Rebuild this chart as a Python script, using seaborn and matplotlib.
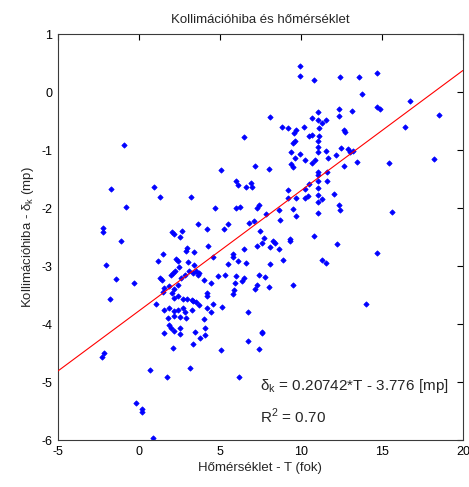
import matplotlib
matplotlib.use("Agg")
import matplotlib.pyplot as plt
import numpy as np
import pandas as pd
import seaborn as sns

# Temperature (°C) and collimation error (arc-seconds) of each observation
temp = [
    9.93, 9.93, 10.8, 8.09, 8.84, 9.19, 9.7, 9.6, 10.2, 11.09, 10.7, 11.05, 11.3, 11.54, 11.1,
    12.42, 13.6, 14.67, 13.8, 16.74, 12.34, 12.34, 13.16, 14.67, 14.91, 12.67, 12.75, 16.43, 18.5,
    -0.9, -1.69, -0.81, 0.93, 1.29, 3.2, -2.2, -2.2, 2.03, 2.67,
    10.48, 10.72, 11.13, 9.62, 9.5, 11.09, 11.09, 11.54, 11.09, 9.42, 9.93, 9.62, 10.23, 10.89,
    10.72, 9.42, 9.5, 6.49, 5.1, 7.17, 8.02, 5.98, 6.14, 6.63, 6.92, 7.0, 4.71, 5.98, 6.23, 7.31,
    7.45, 3.65, 4.24, 5.26, 5.53, 6.8, 7.1, 7.49, 7.88, 8.64, 8.7, 9.19, 9.19, 9.7, 9.5, 9.7,
    10.27, 10.48, 10.23, 10.44, 11.09, 11.09, 11.09, 11.09, 11.09, 11.3, 11.09, 11.09, 11.6, 11.6,
    11.7, 12.2, 12.5, 12.93, 13.03, 13.2, 13.44, 12.67, 15.43, 18.2, 12.05, 12.34, 12.42, 15.63,
    -1.1, -1.99, -1.4, -0.3, -1.77, 2.2, 2.56, 1.21, 1.5, 2.98, 2.9, 2.32, 2.44, 3.01, 1.3, 1.42,
    2.09, 1.99, 2.24, 2.5, 2.6, 2.85, 3.1, 1.58, 1.48, 1.89, 2.15, 2.44, 2.03, 2.2, 2.4, 2.71,
    2.98, 3.26, 1.09, 1.54, 1.89, 2.15, 2.4, 2.71, 2.85, 1.79, 2.2, 2.56, 2.91, 1.89, 1.99, 2.15,
    2.56, 3.3,
    10.83, 9.36, 9.36, 8.27, 8.43, 7.72, 7.58, 7.31, 8.09, 8.68, 4.3, 6.49, 3.42, 5.83, 5.83, 4.59,
    8.9, 11.3, 11.58, 5.53, 6.14, 6.63, 8.1, 3.42, 3.32, 3.53, 3.73, 3.63, 4.02, 4.45, 4.88, 5.33,
    5.98, 6.49, 6.35, 5.92, 7.45, 7.78, 8.02, 7.31, 7.2, 9.5, 5.9, 5.83, 4.24, 4.24, 3.32, 3.53,
    3.69, 4.59, 4.24, 4.45, 5.12, 6.72, 4.02, 4.08, 3.49, 7.61,
    12.21, 14.67, 14.02,
    -2.14, -2.26, 0.72, 1.75, 1.58, 2.56, 2.12, 3.32, 3.18, -0.15, 0.19, 0.19, 0.91,
    3.79, 4.08, 5.1, 6.74, 7.58, 7.45, 6.18,
]
kollim = [
    0.45, 0.27, 0.21, -0.43, -0.60, -0.62, -0.65, -0.70, -0.61, -0.35, -0.45, -0.48, -0.53, -0.48, -0.62,
    0.26, 0.26, 0.33, -0.04, -0.16, -0.30, -0.41, -0.33, -0.25, -0.30, -0.65, -0.69, -0.60, -0.39,
    -0.91, -1.67, -1.98, -1.63, -1.81, -1.81, -2.34, -2.41, -2.41, -2.39,
    -0.75, -0.74, -0.75, -0.84, -0.88, -0.85, -0.94, -1.02, -1.03, -1.03, -1.06, -1.14, -1.17, -1.17,
    -1.22, -1.24, -1.29, -0.78, -1.34, -1.28, -1.32, -1.54, -1.61, -1.63, -1.57, -1.63, -2.0, -2.0, -1.98, -2.0,
    -1.94, -2.27, -2.36, -2.36, -2.27, -2.25, -2.22, -2.4, -2.1, -2.03, -2.2, -1.69, -1.83, -1.82, -2.02, -2.14,
    -1.67, -1.59, -1.83, -1.79, -1.38, -1.43, -1.54, -1.66, -1.77, -1.84, -1.90, -2.09, -1.54, -1.38,
    -1.13, -1.08, -0.97, -0.98, -1.03, -1.01, -1.21, -1.28, -1.23, -1.16, -1.75, -1.95, -2.03, -2.06,
    -2.57, -2.99, -3.22, -3.29, -3.56, -2.44, -2.5, -2.91, -2.8, -2.69, -2.74, -2.87, -2.92, -2.93, -3.21, -3.24,
    -3.12, -3.15, -3.08, -3.02, -3.21, -3.15, -3.09, -3.38, -3.45, -3.35, -3.39, -3.33, -3.47, -3.55, -3.52, -3.56,
    -3.56, -3.58, -3.66, -3.75, -3.72, -3.78, -3.75, -3.72, -3.8, -3.9, -3.87, -3.88, -3.9, -4.01, -4.07, -4.12,
    -4.06, -3.75,
    -2.49, -2.53, -2.57, -2.57, -2.6, -2.52, -2.61, -2.66, -2.68, -2.7, -2.66, -2.7, -2.76, -2.79, -2.84, -2.85,
    -2.9, -2.9, -2.94, -2.97, -2.92, -2.94, -2.97, -2.98, -3.12, -3.08, -3.12, -3.15, -3.24, -3.29, -3.17, -3.16,
    -3.17, -3.21, -3.26, -3.29, -3.15, -3.19, -3.36, -3.32, -3.4, -3.33, -3.41, -3.49, -3.47, -3.52, -3.6, -3.62,
    -3.67, -3.65, -3.72, -3.79, -3.71, -3.79, -3.91, -4.06, -4.14, -4.14,
    -2.62, -2.78, -3.65,
    -4.5, -4.56, -4.8, -4.91, -4.16, -4.18, -4.41, -4.34, -4.76, -5.36, -5.46, -5.52, -5.97,
    -4.24, -4.19, -4.45, -4.29, -4.16, -4.43, -4.91,
]

# Linear fit coefficients
slope = 0.20742
intercept = -3.776
r_squared = 0.70

x_ticks = [-5, 0, 5, 10, 15, 20]
y_ticks = [-6, -5, -4, -3, -2, -1, 0, 1]

df = pd.DataFrame({"T": temp, "delta": kollim})

sns.set_theme(style="white")
plt.rcParams["font.family"] = ["Liberation Sans", "DejaVu Sans"]
plt.rcParams["mathtext.fontset"] = "custom"
plt.rcParams["mathtext.rm"] = "Liberation Sans"
plt.rcParams["axes.unicode_minus"] = False

fig = plt.figure(figsize=(4.69, 4.87), dpi=100)
ax = fig.add_axes([0.123, 0.0965, 0.864, 0.8335])

sns.scatterplot(data=df, x="T", y="delta", ax=ax, marker="D", s=7,
                color="#0000ff", edgecolor="#0000ff", linewidth=0.6, zorder=2)

fit_x = np.array([x_ticks[0], x_ticks[-1]], dtype=float)
ax.plot(fit_x, slope * fit_x + intercept, color="#ff0000", lw=0.8, zorder=3)

ax.set_xlim(x_ticks[0], x_ticks[-1])
ax.set_ylim(y_ticks[0], y_ticks[-1])
ax.set_xticks(x_ticks)
ax.set_yticks(y_ticks)
ax.tick_params(direction="in", length=4, width=0.8, top=True, right=True,
               labelsize=9, colors="#000000", pad=4)
for sp in ax.spines.values():
    sp.set_color("#3a3a3a")
    sp.set_linewidth(0.8)

ax.set_title("Kollimációhiba és hőmérséklet", fontsize=9.5, pad=8)
ax.set_xlabel("Hőmérséklet - T (fok)", fontsize=9.5, labelpad=3)
ax.set_ylabel(r"Kollimációhiba - δ$_\mathregular{k}$ (mp)", fontsize=9.5, labelpad=4)

ax.text(7.5, -5.07, "δ$_\\mathregular{k}$ = %.5f*T - %.3f [mp]" % (slope, -intercept),
        fontsize=11, va="center", ha="left")
ax.text(7.5, -5.6, "R$^\\mathregular{2}$ = %.2f" % r_squared,
        fontsize=11, va="center", ha="left")

fig.savefig("out.png", dpi=100, facecolor="white")
